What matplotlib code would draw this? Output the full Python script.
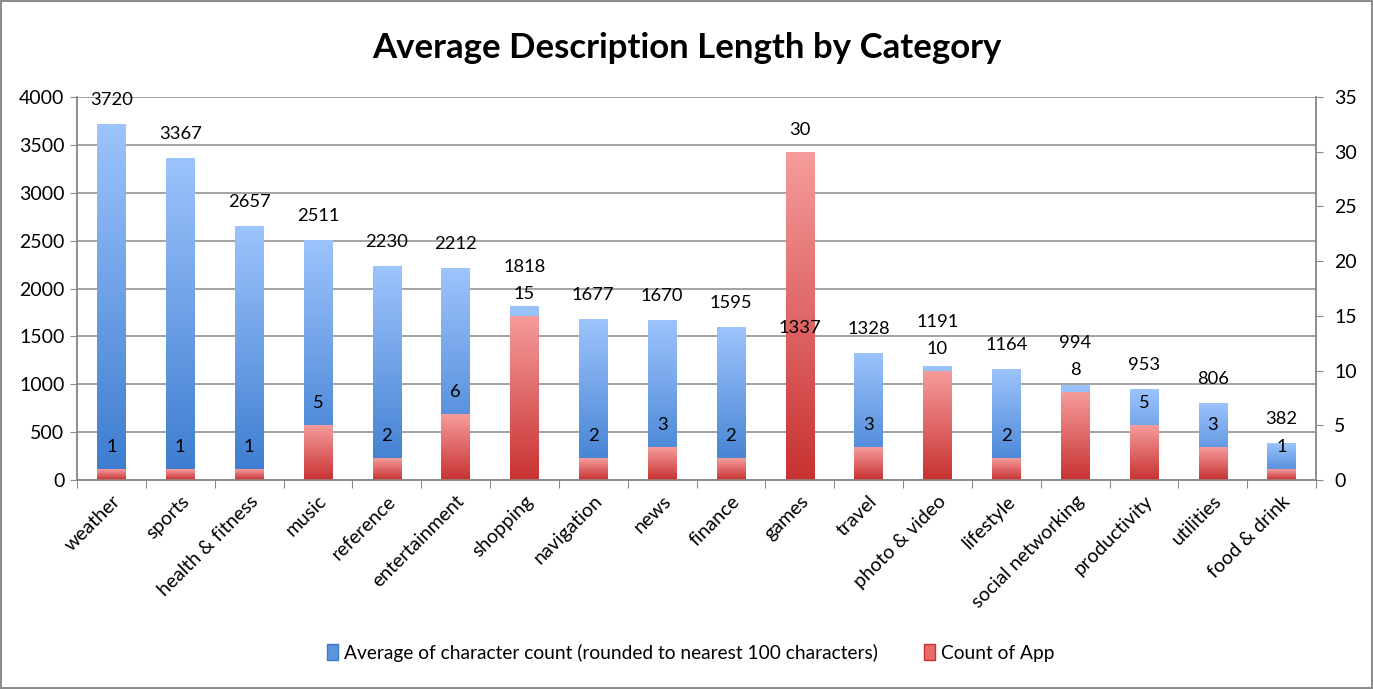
import numpy as np
import matplotlib
matplotlib.use("Agg")
import matplotlib.pyplot as plt
from matplotlib.colors import LinearSegmentedColormap
from matplotlib.patches import Patch

plt.rcParams['font.family'] = ['Lato', 'DejaVu Sans']

# Data
categories = ['weather', 'sports', 'health & fitness', 'music', 'reference',
              'entertainment', 'shopping', 'navigation', 'news', 'finance',
              'games', 'travel', 'photo & video', 'lifestyle',
              'social networking', 'productivity', 'utilities', 'food & drink']
avg_chars = [3720, 3367, 2657, 2511, 2230, 2212, 1818, 1677, 1670, 1595,
             1337, 1328, 1191, 1164, 994, 953, 806, 382]
app_count = [1, 1, 1, 5, 2, 6, 15, 2, 3, 2, 30, 3, 10, 2, 8, 5, 3, 1]

blue_cmap = LinearSegmentedColormap.from_list('b', ['#3b7bcf', '#9dc4fc'])
red_cmap = LinearSegmentedColormap.from_list('r', ['#c83232', '#f69c9c'])


def gradient_bars(axis, bars, cmap):
    # paint a vertical gradient inside every bar
    grad = np.linspace(0, 1, 256).reshape(-1, 1)
    for b in bars:
        x0, y0 = b.get_x(), b.get_y()
        w, h = b.get_width(), b.get_height()
        b.set_facecolor('none')
        b.set_edgecolor('none')
        im = axis.imshow(grad, cmap=cmap, origin='lower', aspect='auto',
                         extent=[x0, x0 + w, y0, y0 + h], zorder=2)
        im.set_clip_path(b)


fig = plt.figure(figsize=(13.73, 6.89), dpi=100, linewidth=1.5,
                 edgecolor='#8c8c8c')
ax = fig.add_axes([0.0561, 0.3033, 0.9024, 0.5559])
ax2 = ax.twinx()

x = np.arange(len(categories))
width = 0.41

b1 = ax.bar(x, avg_chars, width)
gradient_bars(ax, b1, blue_cmap)
b2 = ax2.bar(x, app_count, width)
gradient_bars(ax2, b2, red_cmap)

ax.set_xlim(-0.5, len(categories) - 0.5)
ax.set_ylim(0, 4000)
ax.set_yticks(range(0, 4001, 500))
ax2.set_ylim(0, 35)
ax2.set_yticks(range(0, 36, 5))

ax.yaxis.grid(True, color='#8a8a8a', linewidth=1.1)
ax.set_axisbelow(True)

# value labels drawn on top of everything; a blue label that would hit
# the red one is lifted above it (like Excel does)
for i, (v, c) in enumerate(zip(avg_chars, app_count)):
    blue_top = ax.transData.transform((i, v))[1]
    red_top = ax2.transData.transform((i, c))[1]
    red_mid = red_top + 22
    blue_mid = blue_top + 24
    if red_mid - 20 < blue_mid < red_mid + 26:
        blue_mid = red_mid + 27
    ax2.annotate(str(v), xy=(i, v), xycoords=ax.transData,
                 xytext=(0, blue_mid - blue_top), textcoords='offset pixels',
                 ha='center', va='center', fontsize=13.2)
    ax2.annotate(str(c), xy=(i, c), xycoords='data',
                 xytext=(0, red_mid - red_top), textcoords='offset pixels',
                 ha='center', va='center', fontsize=13.2)

# category ticks on the boundaries, labels at the centres
ax.set_xticks(np.arange(-0.5, len(categories), 1))
ax.set_xticklabels([])
ax.set_xticks(x, minor=True)
ax.set_xticklabels(categories, minor=True, rotation=45, ha='right',
                   rotation_mode='anchor', fontsize=14)
ax.tick_params(axis='x', which='minor', length=0, pad=9)
ax.tick_params(axis='x', which='major', length=6, color='#8a8a8a')
ax.tick_params(axis='y', length=5, color='#8a8a8a', labelsize=14, pad=4)
ax2.tick_params(axis='y', length=5, color='#8a8a8a', labelsize=14, pad=8)

for a in (ax, ax2):
    for s in a.spines.values():
        s.set_color('#8a8a8a')
        s.set_linewidth(1.1)
    a.spines['top'].set_visible(False)

fig.suptitle('Average Description Length by Category', y=0.930, va='center',
             fontsize=25, fontweight='bold')

handles = [Patch(facecolor='#5b93dc', edgecolor='#3b7bcf'),
           Patch(facecolor='#ea6a6a', edgecolor='#c83232')]
fig.legend(handles, ['Average of character count (rounded to nearest 100 characters)',
                     'Count of App'],
           loc='center', bbox_to_anchor=(0.503, 0.053), ncol=2, frameon=False,
           fontsize=13.8, handlelength=0.6, handleheight=0.9,
           handletextpad=0.3, columnspacing=2.4)

fig.savefig('out.png', dpi=100)
